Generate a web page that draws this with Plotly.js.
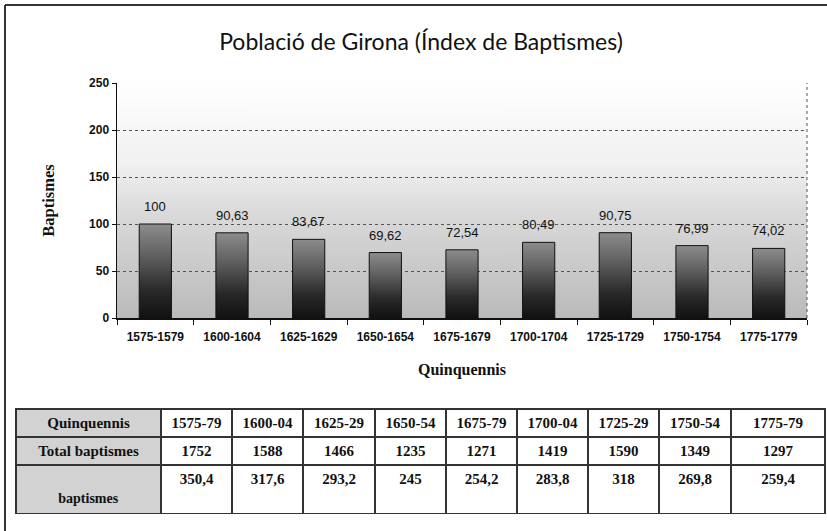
<!DOCTYPE html>
<html>
<head>
<meta charset="utf-8">
<script src="https://cdn.plot.ly/plotly-3.0.1.min.js"></script>
<style>html,body{margin:0;padding:0;background:#fff;}#chart{width:827px;height:531px;}</style>
</head>
<body>
<div id="chart"></div>
<script>
// ---- data ----
const periods = ['1575-1579','1600-1604','1625-1629','1650-1654','1675-1679','1700-1704','1725-1729','1750-1754','1775-1779'];
const indexValues = [100, 90.63, 83.67, 69.62, 72.54, 80.49, 90.75, 76.99, 74.02];
const tablePeriods = ['1575-79','1600-04','1625-29','1650-54','1675-79','1700-04','1725-29','1750-54','1775-79'];
const totalBaptisms = [1752, 1588, 1466, 1235, 1271, 1419, 1590, 1349, 1297];
const yearlyBaptisms = [350.4, 317.6, 293.2, 245, 254.2, 283.8, 318, 269.8, 259.4];
const rowLabels = ['Quinquennis', 'Total baptismes', '&nbsp;<br>baptismes'];
const yTicks = [0, 50, 100, 150, 200, 250];

const fmt = v => String(v).replace('.', ',');
const W = 827, H = 531;
const px = x => x / W, py = y => 1 - y / H;

const bar = {
  type: 'bar', x: periods, y: indexValues,
  width: 0.42,
  marker: {color: '#3a3a3a', line: {color: '#111', width: 1}},
  hoverinfo: 'skip', xaxis: 'x', yaxis: 'y'
};

const gray = '#d2d2d2';
const colFill = [gray].concat(tablePeriods.map(() => '#ffffff'));
const tFont = {family: 'Liberation Serif, Times New Roman, serif', size: 15, color: '#111', weight: 'bold'};
const table = {
  type: 'table',
  domain: {x: [px(16), px(825)], y: [py(515), py(409)]},
  columnwidth: [145, 71, 71, 72, 71, 71, 71, 71, 72, 94],
  header: {
    // two header rows: periods and totals
    values: [[rowLabels[0], rowLabels[1]]].concat(tablePeriods.map((p, i) => [p, String(totalBaptisms[i])])),
    align: 'center', height: 28,
    fill: {color: colFill},
    line: {color: '#333', width: 2},
    font: tFont
  },
  cells: {
    values: [[rowLabels[2]]].concat(yearlyBaptisms.map(v => [fmt(v)])),
    align: 'center', height: 43,
    fill: {color: colFill},
    line: {color: '#333', width: 2},
    font: {family: tFont.family, color: tFont.color, weight: 'bold',
      size: [14].concat(tablePeriods.map(() => 15))}
  }
};

const annotations = periods.map((p, i) => ({
  x: p, y: indexValues[i], xref: 'x', yref: 'y',
  text: fmt(indexValues[i]), showarrow: false,
  yanchor: 'bottom', yshift: 8,
  font: {family: 'Liberation Sans, Arial, sans-serif', size: 13, color: '#111'}
}));

const layout = {
  width: W, height: H,
  margin: {l: 0, r: 0, t: 0, b: 0},
  paper_bgcolor: '#ffffff', plot_bgcolor: '#e0e0e0',
  showlegend: false,
  separators: ', ',
  title: {
    text: 'Població de Girona (Índex de Baptismes)',
    x: px(421), xanchor: 'center', y: py(42), yanchor: 'middle', xref: 'paper', yref: 'paper',
    font: {family: 'Lato, Open Sans, sans-serif', size: 23, color: '#111'}
  },
  xaxis: {
    domain: [px(117), px(807)],
    anchor: 'y',
    showline: true, linecolor: '#111', linewidth: 1.5,
    ticks: 'outside', tickson: 'boundaries', ticklen: 5, tickcolor: '#111',
    ticklabelstandoff: 7,
    tickfont: {family: 'Liberation Sans, Arial, sans-serif', size: 12, color: '#111', weight: 'bold'},
    showgrid: false,
    title: {text: 'Quinquennis', standoff: 21,
      font: {family: 'Liberation Serif, DejaVu Serif, serif', size: 16, color: '#111', weight: 'bold'}}
  },
  yaxis: {
    domain: [py(318), py(83)],
    anchor: 'x',
    range: [0, 250], tickvals: yTicks, ticktext: yTicks.map(String),
    showline: true, linecolor: '#111', linewidth: 1.5,
    ticks: 'outside', ticklen: 4, tickcolor: '#111',
    tickfont: {family: 'Liberation Sans, Arial, sans-serif', size: 12, color: '#111', weight: 'bold'},
    showgrid: true, gridcolor: '#555', griddash: 'dot', gridwidth: 1,
    zeroline: false,
    title: {text: 'Baptismes', standoff: 30,
      font: {family: 'Liberation Serif, DejaVu Serif, serif', size: 16.5, color: '#111', weight: 'bold'}}
  },
  annotations: annotations,
  shapes: [
    {type: 'line', xref: 'x domain', yref: 'y domain', x0: 1, x1: 1, y0: 0, y1: 1, line: {color: '#555', width: 1, dash: 'dot'}},
    {type: 'line', xref: 'paper', yref: 'paper', x0: px(5), x1: 1, y0: py(5), y1: py(5), line: {color: '#333', width: 2}},
    {type: 'line', xref: 'paper', yref: 'paper', x0: px(5), x1: px(5), y0: py(5), y1: 0, line: {color: '#333', width: 2}}
  ]
};

Plotly.newPlot('chart', [bar, table], layout, {displayModeBar: false, staticPlot: true}).then(gd => {
  const svgNS = 'http://www.w3.org/2000/svg';
  const svg = gd.querySelector('.main-svg');
  let defs = svg.querySelector('defs');
  if (!defs) { defs = document.createElementNS(svgNS, 'defs'); svg.insertBefore(defs, svg.firstChild); }
  function grad(id, stops) {
    const g = document.createElementNS(svgNS, 'linearGradient');
    g.setAttribute('id', id); g.setAttribute('x1', '0'); g.setAttribute('y1', '0'); g.setAttribute('x2', '0'); g.setAttribute('y2', '1');
    stops.forEach(s => { const st = document.createElementNS(svgNS, 'stop'); st.setAttribute('offset', s[0]); st.setAttribute('stop-color', s[1]); g.appendChild(st); });
    defs.appendChild(g);
  }
  grad('bgGrad', [['0%', '#ffffff'], ['35%', '#f0f0f0'], ['55%', '#dadada'], ['100%', '#bababa']]);
  grad('barGrad', [['0%', '#8c8c8c'], ['35%', '#5e5e5e'], ['70%', '#2a2a2a'], ['100%', '#111111']]);
  gd.querySelectorAll('.bars .point path').forEach(p => { p.style.fill = 'url(#barGrad)'; });
  gd.querySelectorAll('rect.bg').forEach(r => { r.style.fill = 'url(#bgGrad)'; });
});
</script>
</body>
</html>
